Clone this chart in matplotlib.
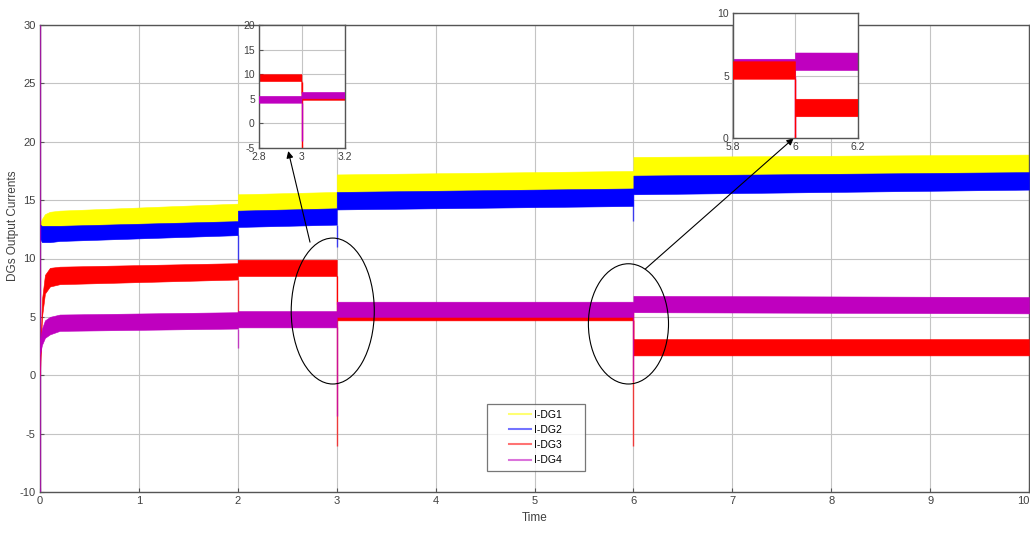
import matplotlib
matplotlib.use("Agg")
import matplotlib.pyplot as plt
import matplotlib.transforms as mtransforms
from matplotlib.patches import Ellipse
from matplotlib.lines import Line2D
from matplotlib.legend_handler import HandlerLine2D

plt.rcParams['font.family'] = ['Liberation Sans', 'DejaVu Sans']
plt.rcParams['axes.unicode_minus'] = False

# Time breakpoints (duplicates mark step changes at the load events)
t_pts = [0.0, 0.02, 0.05, 0.1, 0.2, 2.0, 2.0, 3.0, 3.0, 6.0, 6.0, 10.0]

# Ripple envelope (lower / upper) of each DG output current
dg1_lo = [12.0, 12.3, 12.5, 12.6, 12.7, 13.1, 14.0, 14.2, 15.6, 16.0, 17.0, 17.3]
dg1_hi = [13.0, 13.4, 13.8, 14.0, 14.1, 14.7, 15.5, 15.7, 17.2, 17.5, 18.7, 18.9]
dg2_lo = [11.7, 11.4, 11.4, 11.4, 11.5, 12.0, 12.7, 12.9, 14.2, 14.5, 15.5, 15.9]
dg2_hi = [12.9, 12.8, 12.8, 12.8, 12.8, 13.2, 14.1, 14.3, 15.7, 16.0, 17.1, 17.4]
dg3_lo = [0.0, 5.0, 7.0, 7.6, 7.8, 8.2, 8.5, 8.5, 4.7, 4.7, 1.7, 1.7]
dg3_hi = [1.0, 6.5, 8.6, 9.2, 9.3, 9.6, 9.9, 9.9, 6.1, 6.1, 3.1, 3.1]
dg4_lo = [1.8, 2.6, 3.2, 3.5, 3.8, 4.0, 4.1, 4.1, 5.0, 5.0, 5.4, 5.3]
dg4_hi = [3.0, 4.0, 4.7, 5.0, 5.2, 5.4, 5.5, 5.5, 6.3, 6.3, 6.8, 6.7]

# Switching transients: time, start and end of each spike
dg2_spk_t = [2.0, 3.0, 6.0]
dg2_spk_a = [12.0, 12.9, 14.5]
dg2_spk_b = [9.5, 11.0, 13.2]
dg3_spk_t = [2.0, 3.0, 6.0]
dg3_spk_a = [8.2, 8.5, 4.7]
dg3_spk_b = [5.3, -6.1, -6.1]
dg4_spk_t = [0.0, 2.0, 3.0, 6.0]
dg4_spk_a = [30.0, 4.0, 4.1, 5.0]
dg4_spk_b = [-10.0, 2.3, -3.5, -0.5]

labels = ['I-DG1', 'I-DG2', 'I-DG3', 'I-DG4']
colors = ['#ffff00', '#0000ff', '#ff0000', '#bf00bf']

series = [
    (dg1_lo, dg1_hi, [], [], []),
    (dg2_lo, dg2_hi, dg2_spk_t, dg2_spk_a, dg2_spk_b),
    (dg3_lo, dg3_hi, dg3_spk_t, dg3_spk_a, dg3_spk_b),
    (dg4_lo, dg4_hi, dg4_spk_t, dg4_spk_a, dg4_spk_b),
]

GRID = '#c4c4c4'
TXT = '#404040'


def draw_signals(a, order=(0, 1, 2, 3), spike_alpha=0.7):
    for z, i in enumerate(order):
        lo, hi, st, sa, sb = series[i]
        a.fill_between(t_pts, lo, hi, color=colors[i], lw=0.4,
                       edgecolor=colors[i], zorder=2 + z)
        if st:
            a.vlines(st, sa, sb, color=colors[i], lw=1.0,
                     alpha=spike_alpha, zorder=2 + z)


def style(a, fs=8):
    a.grid(True, color=GRID, lw=0.8)
    a.set_axisbelow(True)
    for s in a.spines.values():
        s.set_color('#555555')
        s.set_linewidth(1.0)
    a.tick_params(direction='in', length=3, colors='#555555',
                  labelcolor=TXT, labelsize=fs, pad=3)


fig = plt.figure(figsize=(10.3, 5.33), dpi=100)

# Main axes
ax = fig.add_axes([40 / 1030, 41 / 533, 989 / 1030, 467 / 533])
draw_signals(ax)
ax.set_xlim(0, 10)
ax.set_ylim(-10, 30)
ax.set_xticks(range(0, 11))
ax.set_yticks(range(-10, 31, 5))
style(ax)
ax.set_xlabel('Time', fontsize=8.5, color=TXT, labelpad=4)
ax.set_ylabel('DGs Output Currents', fontsize=8.5, color=TXT)
ax.yaxis.set_label_coords(-0.021, 0.57)

# keep the last x tick label inside the canvas
fig.canvas.draw()
last = ax.get_xticklabels()[-1]
last.set_transform(last.get_transform() +
                   mtransforms.ScaledTranslation(-6 / 100, 0,
                                                 fig.dpi_scale_trans))

# Zoom markers around the two load events
ax.add_patch(Ellipse((2.96, 5.5), 0.84, 12.5, fill=False, ec='black',
                     lw=0.8, zorder=10))
ax.add_patch(Ellipse((5.95, 4.4), 0.81, 10.3, fill=False, ec='black',
                     lw=0.8, zorder=10))
arrow = dict(arrowstyle='-|>', color='black', lw=0.8, mutation_scale=10,
             shrinkA=0, shrinkB=0)
ax.annotate('', xy=(2.51, 19.2), xytext=(2.73, 11.4), arrowprops=arrow,
            zorder=10)
ax.annotate('', xy=(7.62, 20.3), xytext=(6.12, 9.1), arrowprops=arrow,
            zorder=10)

handles = [Line2D([], [], color=c, lw=1.5, alpha=0.55) for c in colors]
leg = ax.legend(handles, [s + '      ' for s in labels], loc='lower left',
                bbox_to_anchor=(0.452, 0.045), borderaxespad=0,
                fontsize=7.5, frameon=True, fancybox=False,
                handlelength=3.65, handletextpad=0.3,
                labelspacing=0.5, borderpad=0.55,
                handler_map={Line2D: HandlerLine2D(xpad=1.55)})
leg.get_frame().set_edgecolor('#555555')
leg.get_frame().set_linewidth(0.9)
leg.set_zorder(12)

# Inset around t = 3 s
ax1 = fig.add_axes([259 / 1030, (533 - 148) / 533, 86 / 1030, 123 / 533])
ax1.set_facecolor('white')
draw_signals(ax1, order=(2, 3), spike_alpha=1.0)
ax1.set_xlim(2.8, 3.2)
ax1.set_ylim(-5, 20)
ax1.set_xticks([2.8, 3.0, 3.2])
ax1.set_xticklabels(['2.8', '3', '3.2'])
ax1.set_yticks([-5, 0, 5, 10, 15, 20])
style(ax1, fs=7.5)

# Inset around t = 6 s
ax2 = fig.add_axes([733 / 1030, (533 - 138) / 533, 125 / 1030, 125 / 533])
ax2.set_facecolor('white')
draw_signals(ax2, order=(3, 2), spike_alpha=1.0)
ax2.set_xlim(5.8, 6.2)
ax2.set_ylim(0, 10)
ax2.set_xticks([5.8, 6.0, 6.2])
ax2.set_xticklabels(['5.8', '6', '6.2'])
ax2.set_yticks([0, 5, 10])
style(ax2, fs=7.5)

fig.savefig('out.png', dpi=100)
